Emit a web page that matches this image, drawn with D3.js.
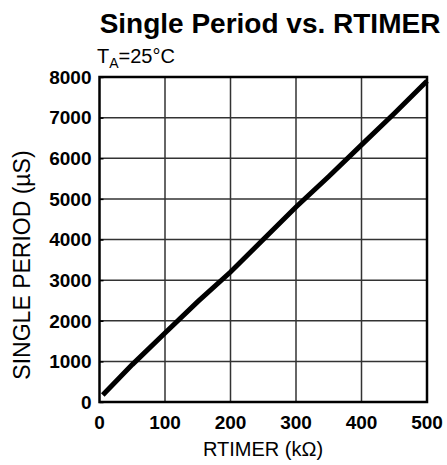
<!DOCTYPE html>
<html>
<head>
<meta charset="utf-8">
<script src="https://cdn.jsdelivr.net/npm/d3@7"></script>
<style>
  body { margin: 0; background: #fff; }
  svg text { font-family: "Liberation Sans", Arial, sans-serif; fill: #000; }
</style>
</head>
<body>
<svg id="chart" width="447" height="465"></svg>
<script>
// values
var rtimer = [5, 50, 100, 150, 200, 250, 300, 350, 400, 450, 500];              // kΩ
var period = [170, 920, 1700, 2470, 3200, 4000, 4800, 5550, 6330, 7100, 7900];  // µs
var x_ticks = [0, 100, 200, 300, 400, 500];
var y_ticks = [0, 1000, 2000, 3000, 4000, 5000, 6000, 7000, 8000];

function draw_chart() {
  var svg = d3.select("#chart");
  var plot_left = 99.5, plot_right = 427, plot_top = 77, plot_bottom = 402;

  var x = d3.scaleLinear().domain([0, 500]).range([plot_left, plot_right]);
  var y = d3.scaleLinear().domain([0, 8000]).range([plot_bottom, plot_top]);

  /* grid */
  svg.append("g").selectAll("line")
    .data(x_ticks.slice(1, -1)).enter().append("line")
    .attr("x1", function(d) { return x(d); })
    .attr("x2", function(d) { return x(d); })
    .attr("y1", plot_top).attr("y2", plot_bottom)
    .attr("stroke", "#333").attr("stroke-width", 1.5);

  svg.append("g").selectAll("line")
    .data(y_ticks.slice(1, -1)).enter().append("line")
    .attr("y1", function(d) { return y(d); })
    .attr("y2", function(d) { return y(d); })
    .attr("x1", plot_left).attr("x2", plot_right)
    .attr("stroke", "#333").attr("stroke-width", 1.5);

  /* frame */
  svg.append("rect")
    .attr("x", plot_left).attr("y", plot_top)
    .attr("width", plot_right - plot_left).attr("height", plot_bottom - plot_top)
    .attr("fill", "none").attr("stroke", "#000").attr("stroke-width", 2.5);

  /* small inner ticks on the left */
  var y_axis = svg.append("g")
    .attr("transform", "translate(" + plot_left + ",0)")
    .call(d3.axisRight(y).tickValues(y_ticks).tickSize(4).tickFormat(""));
  y_axis.select(".domain").remove();
  y_axis.selectAll("line").attr("stroke", "#000").attr("stroke-width", 1.5);

  svg.append("g").selectAll("text")
    .data(y_ticks).enter().append("text")
    .attr("x", plot_left - 8)
    .attr("y", function(d) { return y(d); })
    .attr("dy", "0.36em")
    .attr("text-anchor", "end")
    .style("font-size", "19px").style("font-weight", "bold")
    .text(function(d) { return d; });

  svg.append("g").selectAll("text")
    .data(x_ticks).enter().append("text")
    .attr("x", function(d) { return x(d); })
    .attr("y", 429)
    .attr("text-anchor", "middle")
    .style("font-size", "19px").style("font-weight", "bold")
    .text(function(d) { return d; });

  /* curve */
  var line = d3.line()
    .x(function(d, i) { return x(rtimer[i]); })
    .y(function(d) { return y(d); });

  svg.append("path")
    .datum(period)
    .attr("d", line)
    .attr("fill", "none")
    .attr("stroke", "#000")
    .attr("stroke-width", 5);

  /* titles */
  svg.append("text")
    .attr("x", 270).attr("y", 33)
    .attr("text-anchor", "middle")
    .style("font-size", "28px").style("font-weight", "bold")
    .text("Single Period vs. RTIMER");

  var ta = svg.append("text")
    .attr("x", 97).attr("y", 63)
    .style("font-size", "20px");
  ta.append("tspan").text("T");
  ta.append("tspan").attr("dy", 5).style("font-size", "14px").text("A");
  ta.append("tspan").attr("dy", -5).text("=25°C");

  svg.append("text")
    .attr("x", 263).attr("y", 456)
    .attr("text-anchor", "middle")
    .style("font-size", "20px")
    .text("RTIMER (kΩ)");

  svg.append("text")
    .attr("transform", "translate(30,265) rotate(-90)")
    .attr("text-anchor", "middle")
    .style("font-size", "23px")
    .text("SINGLE PERIOD (µS)");
}

draw_chart();
</script>
</body>
</html>
